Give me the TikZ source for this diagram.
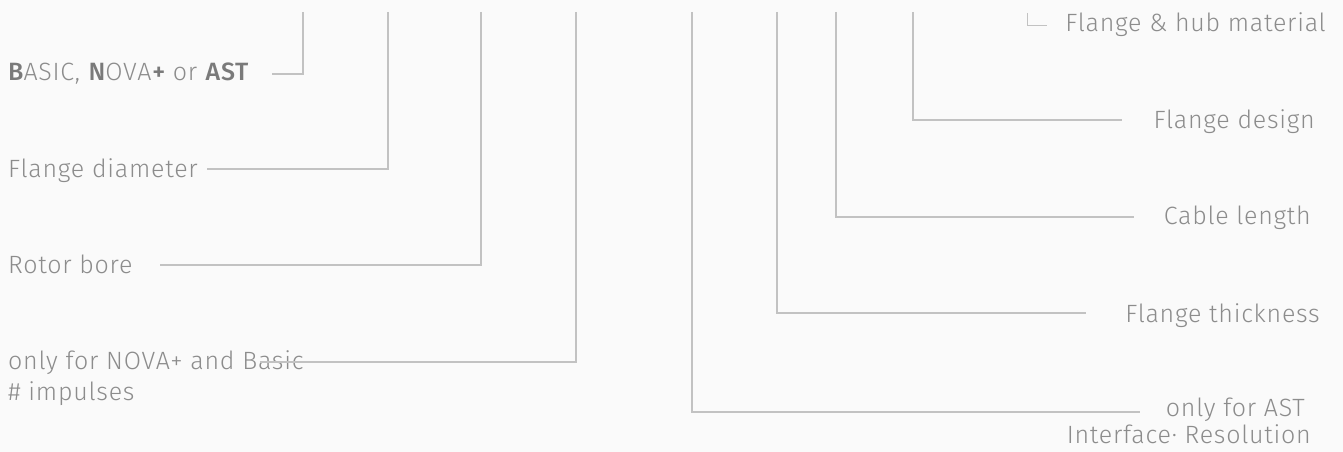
\documentclass[tikz,border=0pt]{standalone}
\usepackage{fontspec}
\setmainfont{Fira Sans Light}[BoldFont={Fira Sans Medium},LetterSpace=3]
\definecolor{bg}{HTML}{FAFAFA}
\definecolor{txt}{HTML}{8C8C8C}
\definecolor{txtb}{HTML}{7A7A7A}
\definecolor{ln}{HTML}{C2C2C2}
\begin{document}
\begin{tikzpicture}[x=1pt,y=-1pt,
  lbl/.style={inner sep=0pt,text=txt,font=\fontsize{25}{29}\selectfont},
  conn/.style={draw=ln,line width=1.2pt}]
\fill[bg] (0,0) rectangle (1343,452);
\useasboundingbox (0,0) rectangle (1343,452);
% left labels
\node[lbl,anchor=base west] (basic) at (8,80) {\textbf{\color{txtb}B}ASIC, \textbf{\color{txtb}N}OVA\textbf{\color{txtb}+} or \textbf{\color{txtb}AST}};
\node[lbl,anchor=base west] (diam) at (8,177) {Flange diameter};
\node[lbl,anchor=base west] (rotor) at (8,273) {Rotor bore};
\node[lbl,anchor=base west] (nova) at (8,369) {only for NOVA+ and Basic};
\node[lbl,anchor=base west] (imp) at (8,400) {\# impulses};
% right labels
\node[lbl,anchor=base east] (hub) at (1326,32) {Flange \& hub material};
\node[lbl,anchor=base east] (design) at (1315,128) {Flange design};
\node[lbl,anchor=base east] (cable) at (1311,224) {Cable length};
\node[lbl,anchor=base east] (thick) at (1320,322) {Flange thickness};
\node[lbl,anchor=base east] (ast) at (1305,416) {only for AST};
\node[lbl,anchor=base east] (iface) at (1311,443) {Interface· Resolution};
% connector coordinates
\coordinate (t1) at (303,12);
\coordinate (t2) at (388,12);
\coordinate (t3) at (481,12);
\coordinate (t4) at (576,12);
\coordinate (t5) at (692,12);
\coordinate (t6) at (777,12);
\coordinate (t7) at (836,12);
\coordinate (t8) at (913,12);
\coordinate (e1) at (272,74);
\coordinate (e2) at (207,169);
\coordinate (e3) at (160,265);
\coordinate (e4) at (260,362);
\coordinate (e5) at (1140,412);
\coordinate (e6) at (1086,313);
\coordinate (e7) at (1134,217);
\coordinate (e8) at (1122,120);
\coordinate (h1) at (1027,13);
\coordinate (h2) at (1047,25);
% connectors
\draw[conn] (t1) |- (e1);
\draw[conn] (t2) |- (e2);
\draw[conn] (t3) |- (e3);
\draw[conn] (t4) |- (e4);
\draw[conn] (t5) |- (e5);
\draw[conn] (t6) |- (e6);
\draw[conn] (t7) |- (e7);
\draw[conn] (t8) |- (e8);
\draw[conn,line width=0.9pt] (h1) |- (h2);
\end{tikzpicture}
\end{document}
